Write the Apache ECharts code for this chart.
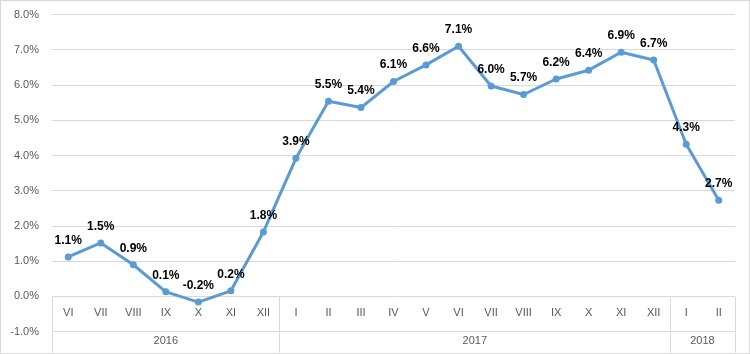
<!DOCTYPE html>
<html>
<head>
    <meta charset="UTF-8">
    <title>Inflation</title>
    <script src="https://cdn.jsdelivr.net/npm/echarts@6/dist/echarts.min.js"></script>
    <style type="text/css">
        html, body {
            margin: 0;
            padding: 0;
            background: #fff;
        }
        #main {
            width: 750px;
            height: 354px;
            box-sizing: border-box;
            border: 1px solid #d9d9d9;
        }
    </style>
</head>
<body>
<div id="main"></div>
<script type="text/javascript">
    // month labels per year
    var months2016 = ['VI', 'VII', 'VIII', 'IX', 'X', 'XI', 'XII'];
    var months2017 = ['I', 'II', 'III', 'IV', 'V', 'VI', 'VII', 'VIII', 'IX', 'X', 'XI', 'XII'];
    var months2018 = ['I', 'II'];
    var years = ['2016', '2017', '2018'];

    // values, %
    var values2016 = [1.12, 1.52, 0.90, 0.13, -0.16, 0.16, 1.83];
    var values2017 = [3.92, 5.54, 5.36, 6.10, 6.57, 7.10, 5.97, 5.73, 6.17, 6.42, 6.93, 6.71];
    var values2018 = [4.32, 2.73];

    var months = months2016.concat(months2017, months2018);
    var values = values2016.concat(values2017, values2018);

    // group boundaries (month index where each year starts)
    var groups = [months2016.length, months2017.length, months2018.length];
    var starts = [0];
    groups.forEach(function (n, i) { starts.push(starts[i] + n); });

    // year axis: half-month slots, label at the centre of each group
    var halfSlots = [];
    for (var k = 0; k <= months.length * 2; k++) halfSlots.push('');
    var yearPos = [];
    years.forEach(function (y, i) {
        var pos = starts[i] * 2 + groups[i];
        halfSlots[pos] = y;
        yearPos.push(pos);
    });
    var sepPos = starts.map(function (s) { return s * 2; });

    var fontFam = '"Liberation Sans", Arial, sans-serif';
    var mycharts = echarts.init(document.getElementById('main'));
    var option = {
        animation: false,
        grid: {
            left: 51,
            right: 14,
            top: 13.5,
            bottom: 21.3
        },
        xAxis: [{
            // month row, sits between 0% and -1%
            type: 'category',
            data: months,
            boundaryGap: true,
            position: 'bottom',
            axisLine: {show: false, onZero: false},
            axisTick: {
                show: true,
                inside: true,
                length: 35,
                interval: function (idx) { return starts.indexOf(idx) >= 0; },
                lineStyle: {color: '#d9d9d9'}
            },
            axisLabel: {
                interval: 0,
                inside: true,
                margin: 13,
                color: '#595959',
                fontSize: 11,
                fontFamily: fontFam
            },
            splitLine: {show: false}
        }, {
            // year row
            type: 'category',
            data: halfSlots,
            boundaryGap: false,
            position: 'bottom',
            axisLine: {show: false, onZero: false},
            axisTick: {
                show: true,
                length: 21,
                interval: function (idx) { return sepPos.indexOf(idx) >= 0; },
                lineStyle: {color: '#d9d9d9'}
            },
            axisLabel: {
                interval: function (idx) { return yearPos.indexOf(idx) >= 0; },
                margin: 4,
                color: '#595959',
                fontSize: 11,
                fontFamily: fontFam
            },
            splitLine: {show: false}
        }],
        yAxis: {
            type: 'value',
            min: -1,
            max: 8,
            interval: 1,
            axisLine: {show: false},
            axisTick: {show: false},
            axisLabel: {
                margin: 13,
                color: '#595959',
                fontSize: 11,
                fontFamily: fontFam,
                formatter: function (v) { return v.toFixed(1) + '%'; }
            },
            splitLine: {lineStyle: {color: '#d9d9d9', width: 1}}
        },
        series: [{
            type: 'line',
            xAxisIndex: 0,
            data: values,
            symbol: 'circle',
            symbolSize: 7,
            lineStyle: {color: '#5b9bd5', width: 3},
            itemStyle: {color: '#5b9bd5'},
            label: {
                show: true,
                position: 'top',
                distance: 7,
                color: '#000',
                fontWeight: 'bold',
                fontSize: 12,
                fontFamily: fontFam,
                formatter: function (p) { return p.value.toFixed(1) + '%'; }
            }
        }]
    };
    mycharts.setOption(option);
</script>
</body>
</html>
